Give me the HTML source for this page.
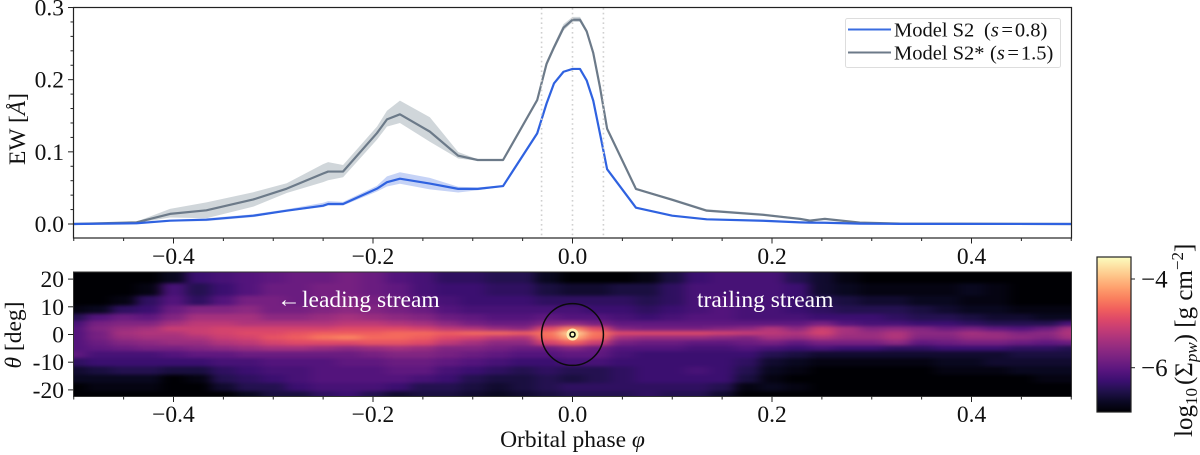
<!DOCTYPE html>
<html lang="en">
<head>
<meta charset="utf-8">
<title>EW and surface density versus orbital phase</title>
<style>
html,body{margin:0;padding:0;background:#fff;width:1200px;height:455px;overflow:hidden}
svg{display:block;font-family:"Liberation Serif",serif;fill:#111}
</style>
</head>
<body>
<svg id="fig" xmlns="http://www.w3.org/2000/svg" width="1200" height="455" viewBox="0 0 1200 455">
<defs>
<clipPath id="topClip"><rect x="73.5" y="7.5" width="998" height="230.5"/></clipPath>
<clipPath id="mapClip"><rect x="73.5" y="272" width="998" height="124.5"/></clipPath>
<filter id="soft" x="-5%" y="-20%" width="110%" height="140%" color-interpolation-filters="sRGB"><feGaussianBlur stdDeviation="6 1.5"/></filter>
<linearGradient id="cbarGrad" x1="0" y1="1" x2="0" y2="0"></linearGradient>
</defs>
<g id="topBands" clip-path="url(#topClip)"></g>
<g id="topLines" clip-path="url(#topClip)"></g>
<g id="refLines"></g>
<rect x="73.5" y="7.5" width="998" height="230.5" fill="none" stroke="#222" stroke-width="1.2"/>
<g id="topAxes"></g>
<text transform="translate(25,129) rotate(-90)" text-anchor="middle" font-size="23.5">EW [<tspan font-style="italic">Å</tspan>]</text>

<g>
<rect x="845.5" y="18.5" width="215" height="49" rx="2" fill="#fff" stroke="#ddd" stroke-width="1"/>
<line x1="848" x2="891" y1="29.5" y2="29.5" stroke="#3a6ce0" stroke-width="2"/>
<line x1="848" x2="891" y1="52.5" y2="52.5" stroke="#6c7a89" stroke-width="2"/>
<text y="36.5" font-size="20.5"><tspan x="894">Model S2</tspan><tspan x="984">(</tspan><tspan font-style="italic">s</tspan><tspan dx="2.5">=</tspan><tspan dx="2">0.8)</tspan></text>
<text y="59.5" font-size="20.5"><tspan x="894">Model S2*</tspan><tspan x="990">(</tspan><tspan font-style="italic">s</tspan><tspan dx="2.5">=</tspan><tspan dx="2">1.5)</tspan></text>
</g>

<g clip-path="url(#mapClip)">
<rect x="60" y="260" width="1030" height="150" fill="#000004"/>
<g id="mapCells" filter="url(#soft)"></g>
</g>
<text y="307" font-size="23.5" style="fill:#fff"><tspan x="277">←</tspan><tspan x="302">leading stream</tspan></text>
<text x="697" y="307" font-size="23.5" style="fill:#fff">trailing stream</text>
<g id="planet"></g>
<rect x="73.5" y="272" width="998" height="124.5" fill="none" stroke="#333" stroke-width="1"/>
<g id="mapAxes"></g>
<text transform="translate(21,335) rotate(-90)" text-anchor="middle" font-size="23.5"><tspan font-style="italic">θ</tspan> [deg]</text>
<text x="572.5" y="447" text-anchor="middle" font-size="23.5">Orbital phase <tspan font-style="italic">φ</tspan></text>

<rect x="1097" y="257" width="34" height="155" fill="url(#cbarGrad)" stroke="#222" stroke-width="1.2"/>
<g id="cbarAxis"></g>
<text transform="translate(1192,437) rotate(-90)" font-size="25">log<tspan font-size="17" dy="5">10</tspan><tspan dy="-5" dx="3">(Σ</tspan><tspan font-size="17" dy="5" font-style="italic">pw</tspan><tspan dy="-5">) [g cm</tspan><tspan font-size="17" dy="-9">−2</tspan><tspan dy="9">]</tspan></text>
</svg>

<script>
// ---- EW panel data ----
const phases = [-0.5,-0.437,-0.4035,-0.367,-0.32,-0.2865,-0.25,-0.245,-0.23,-0.196,-0.186,-0.173,-0.143,-0.1146,-0.095,-0.0696,-0.0354,-0.026,-0.0185,-0.009,0,0.0075,0.0142,0.0208,0.0275,0.0347,0.0636,0.1,0.1345,0.191,0.228,0.238,0.253,0.288,0.328,0.5];
const ewS2 = [0,0.001,0.0046,0.006,0.0115,0.0185,0.0254,0.0277,0.0277,0.049,0.058,0.0628,0.056,0.0487,0.0487,0.0526,0.1256,0.167,0.195,0.211,0.2149,0.2149,0.199,0.171,0.1256,0.076,0.0226,0.0115,0.0065,0.0045,0.0023,0.0019,0.0017,0.0005,0.0002,0];
const ewS2Star = [0,0.0023,0.014,0.019,0.034,0.049,0.07,0.0727,0.0727,0.126,0.145,0.152,0.128,0.0947,0.0887,0.0887,0.1717,0.222,0.245,0.272,0.283,0.283,0.267,0.237,0.19,0.132,0.0486,0.0335,0.0185,0.0127,0.0071,0.0047,0.0071,0.0019,0.0005,0];
const s2Up = [0,0,0.001,0.002,0.002,0.002,0.004,0.004,0.003,0.004,0.008,0.009,0.008,0.003,0.002,0.001,0.001,0.001,0.001,0.001,0.001,0.001,0.001,0.001,0.001,0.001,0.001,0.001,0.001,0,0,0,0,0,0,0];
const s2Down = [0,0,0.001,0.002,0.002,0.001,0.002,0.002,0.002,0.004,0.006,0.007,0.008,0.005,0.002,0.001,0.001,0.001,0.001,0.001,0.001,0.001,0.001,0.001,0.001,0.001,0.001,0.001,0.001,0,0,0,0,0,0,0];
const starUp = [0,0.001,0.007,0.011,0.01,0.0075,0.013,0.013,0.009,0.009,0.012,0.019,0.02,0.005,0.001,0.001,0.002,0.004,0.004,0.005,0.004,0.004,0.003,0.003,0.002,0.002,0.001,0.002,0.002,0.002,0.001,0.001,0.001,0,0,0];
const starDown = [0,0.001,0.005,0.011,0.01,0.006,0.012,0.012,0.008,0.009,0.01,0.012,0.014,0.004,0.001,0.001,0.002,0.004,0.004,0.004,0.003,0.003,0.003,0.003,0.002,0.002,0.001,0.001,0.001,0.001,0.001,0.001,0.001,0,0,0];
const refPhases = [-0.031,0,0.031];
const xTicks = [-0.4,-0.2,0,0.2,0.4];
const xTickLabels = ["−0.4","−0.2","0.0","0.2","0.4"];
const xMinorTicks = [-0.5,-0.45,-0.35,-0.3,-0.25,-0.15,-0.1,-0.05,0.05,0.1,0.15,0.25,0.3,0.35,0.45,0.5];
const ewTicks = [0,0.1,0.2,0.3];
const ewTickLabels = ["0.0","0.1","0.2","0.3"];
const ewMinorTicks = [0.02,0.04,0.06,0.08,0.12,0.14,0.16,0.18,0.22,0.24,0.26,0.28];
const thetaTicks = [20,10,0,-10,-20];
const thetaTickLabels = ["20","10","0","-10","-20"];
const cbarTicks = [-4,-6];
const cbarTickLabels = ["−4","−6"];

// ---- Density map data: log10 surface density, one row per theta, one column per phase ----
const mapPhases = [-0.5,-0.475,-0.45,-0.425,-0.4,-0.375,-0.35,-0.325,-0.3,-0.275,-0.25,-0.225,-0.2,-0.175,-0.15,-0.125,-0.1,-0.075,-0.05,-0.025,0,0.025,0.05,0.075,0.1,0.125,0.15,0.175,0.2,0.225,0.25,0.275,0.3,0.325,0.35,0.375,0.4,0.425,0.45,0.475,0.5];
const mapThetas = [21,16,12,9,6,4,2,0.5,-1,-3,-5,-7,-10,-13,-16,-19,-22];
const mapRow0 = [-7,-7,-7,-7,-6.8,-6.3,-6.2,-6.1,-6,-5.9,-5.9,-5.8,-5.9,-6.1,-6.2,-6.4,-6.4,-6.5,-6.5,-6.8,-7,-7,-7,-6.9,-6.6,-6.3,-6.2,-6.2,-6.2,-6.5,-6.7,-6.9,-7,-7,-7,-7,-7,-7,-7,-7,-7];
const mapRow1 = [-7,-7,-7,-6.9,-6.2,-6.5,-6.3,-6.1,-5.9,-5.9,-5.8,-5.8,-5.9,-6,-6.2,-6.3,-6.3,-6.4,-6.4,-6.6,-6.7,-6.7,-6.6,-6.6,-6.4,-6.2,-6.2,-6.2,-6.2,-6.3,-6.7,-6.8,-6.9,-6.9,-6.9,-6.9,-6.8,-6.9,-7,-7,-7];
const mapRow2 = [-7,-7,-6.9,-6.4,-6.1,-6.4,-6.1,-5.8,-5.8,-5.9,-5.8,-5.7,-5.8,-5.9,-6.1,-6.2,-6.3,-6.3,-6.3,-6.4,-6.4,-6.4,-6.4,-6.5,-6.4,-6.2,-6.1,-6.2,-6.2,-6.3,-6.5,-6.6,-6.7,-6.7,-6.8,-6.8,-6.9,-6.9,-7,-7,-7];
const mapRow3 = [-6.9,-6.8,-6.4,-6.3,-5.9,-5.7,-5.7,-5.6,-5.8,-5.8,-5.7,-5.6,-5.7,-5.8,-5.9,-6.1,-6.2,-6.2,-6.2,-6.2,-6.2,-6.3,-6.3,-6.4,-6.3,-6.2,-6.1,-6.2,-6.2,-6.3,-6.4,-6.5,-6.5,-6.5,-6.6,-6.7,-6.8,-6.8,-6.9,-6.9,-6.9];
const mapRow4 = [-6.5,-6.1,-5.9,-6,-5.7,-5.4,-5.4,-5.4,-5.6,-5.6,-5.5,-5.4,-5.5,-5.6,-5.7,-5.9,-6,-6.1,-6.1,-6,-6.1,-6.1,-6.2,-6.3,-6.2,-6.1,-6.1,-6.2,-6.2,-6.2,-6.3,-6.3,-6.3,-6.4,-6.5,-6.5,-6.6,-6.7,-6.7,-6.8,-6.8];
const mapRow5 = [-6.2,-5.8,-5.7,-5.7,-5.4,-5.2,-5.2,-5.3,-5.3,-5.3,-5.3,-5.2,-5.2,-5.3,-5.4,-5.6,-5.8,-5.9,-5.9,-5.7,-5.6,-5.8,-6,-6,-6,-6,-6,-6,-6,-6,-5.8,-6.1,-6.2,-6.2,-6.3,-6.3,-6.4,-6.5,-6.5,-6.5,-6.2];
const mapRow6 = [-6.1,-5.7,-5.5,-5.4,-5.1,-5.1,-5,-5,-5,-5,-5,-4.9,-4.9,-4.9,-5,-5.2,-5.3,-5.5,-5.6,-4.9,-4.4,-4.9,-5.7,-5.8,-5.8,-5.8,-5.7,-5.6,-5.3,-5.6,-5.1,-5.4,-5.7,-5.6,-5.7,-5.9,-5.8,-6,-6.1,-5.9,-5.4];
const mapRow7 = [-6.1,-5.8,-5.4,-5.3,-5.3,-5.1,-5,-4.9,-4.9,-4.8,-4.7,-4.7,-4.7,-4.6,-4.6,-4.7,-4.6,-4.6,-4.7,-4.5,-3.8,-4.5,-4.9,-4.9,-4.9,-4.9,-5,-5.1,-5.2,-5.3,-5,-5.4,-5.5,-5.3,-5.6,-5.6,-5.4,-5.5,-5.7,-5.6,-5.3];
const mapRow8 = [-6.1,-5.8,-5.5,-5.4,-5.4,-5.3,-5.1,-5,-4.8,-4.7,-4.5,-4.4,-4.6,-4.6,-4.7,-4.9,-5,-5.2,-5.3,-4.6,-4.1,-4.6,-5.4,-5.5,-5.5,-5.5,-5.6,-5.7,-5.4,-5.5,-5.3,-5.5,-5.5,-5.3,-5.7,-5.7,-5.5,-5.5,-5.6,-5.7,-5.4];
const mapRow9 = [-6.1,-5.9,-5.7,-5.6,-5.5,-5.5,-5.3,-5.2,-5,-4.9,-4.9,-4.9,-4.8,-4.8,-4.9,-5.2,-5.4,-5.6,-5.6,-5,-4.7,-5.1,-5.8,-5.9,-5.9,-6,-6,-5.9,-5.8,-6,-5.8,-5.8,-5.8,-5.6,-6,-5.9,-5.8,-5.8,-5.9,-6,-5.9];
const mapRow10 = [-6.1,-6,-5.9,-5.8,-5.8,-5.7,-5.6,-5.5,-5.4,-5.4,-5.5,-5.6,-5.5,-5.4,-5.5,-5.7,-5.7,-5.8,-5.9,-5.9,-5.7,-5.9,-6.1,-6.1,-6.1,-6.2,-6.2,-6.1,-6.2,-6.3,-6.2,-6.3,-6.3,-6.4,-6.4,-6.3,-6.3,-6.3,-6.4,-6.4,-6.5];
const mapRow11 = [-6,-6.2,-6.2,-6.2,-6.1,-6,-6,-5.9,-5.9,-5.9,-5.9,-5.9,-5.8,-5.7,-5.7,-5.8,-5.9,-6,-6.1,-6.1,-6,-6,-6.2,-6.3,-6.3,-6.3,-6.3,-6.3,-6.5,-6.6,-6.7,-6.7,-6.7,-6.7,-6.7,-6.7,-6.7,-6.7,-6.6,-6.6,-6.6];
const mapRow12 = [-6.4,-6.3,-6.3,-6.3,-6.3,-6.3,-6.2,-6.2,-6.1,-6.1,-6.1,-6,-6,-5.9,-5.9,-6,-6.1,-6.2,-6.3,-6.3,-6.2,-6.2,-6.3,-6.3,-6.3,-6.3,-6.3,-6.4,-6.7,-6.8,-6.9,-6.9,-6.9,-6.9,-6.9,-6.8,-6.8,-6.7,-6.7,-6.7,-6.7];
const mapRow13 = [-6.7,-6.6,-6.5,-6.5,-6.6,-6.6,-6.4,-6.3,-6.2,-6.2,-6.1,-6.1,-6.1,-6,-6,-6.2,-6.3,-6.4,-6.5,-6.4,-6.5,-6.5,-6.4,-6.3,-6.3,-6.2,-6.3,-6.5,-6.8,-6.9,-7,-7,-7,-7,-7,-6.9,-6.9,-6.9,-6.8,-6.8,-6.8];
const mapRow14 = [-6.8,-6.8,-6.8,-6.8,-7,-6.9,-6.5,-6.4,-6.3,-6.2,-6.1,-6.1,-6.1,-6.1,-6.2,-6.3,-6.5,-6.6,-6.6,-6.5,-6.6,-6.5,-6.4,-6.3,-6.3,-6.3,-6.3,-6.6,-6.9,-7,-7,-7,-7,-7,-7,-7,-7,-7,-7,-6.9,-6.9];
const mapRow15 = [-7,-6.9,-6.9,-6.9,-7,-7,-6.7,-6.5,-6.5,-6.3,-6.2,-6.2,-6.2,-6.3,-6.5,-6.5,-6.6,-6.7,-6.6,-6.5,-6.4,-6.4,-6.4,-6.4,-6.4,-6.4,-6.5,-6.9,-6.8,-6.9,-7,-7,-7,-7,-7,-7,-7,-7,-7,-7,-7];
const mapRow16 = [-7,-7,-7,-7,-7,-7,-7,-6.8,-6.6,-6.6,-6.4,-6.3,-6.5,-6.7,-6.6,-6.6,-6.7,-6.8,-6.7,-6.6,-6.5,-6.5,-6.5,-6.4,-6.5,-6.5,-6.7,-7,-7,-7,-7,-7,-7,-7,-7,-7,-7,-7,-7,-7,-7];
const mapRows = [mapRow0,mapRow1,mapRow2,mapRow3,mapRow4,mapRow5,mapRow6,mapRow7,mapRow8,mapRow9,mapRow10,mapRow11,mapRow12,mapRow13,mapRow14,mapRow15,mapRow16];

// ---- Scales ----
const NS = "http://www.w3.org/2000/svg";
const xTop = v => 572.5 + v * 997.5;
const yEw = v => 224 - v * 721.6;
const yTheta = t => 334.5 - t * 2.77;
const yCbar = v => 279 + (-4 - v) * 44.35;
const magma = ["#000004","#0b0924","#20114b","#3b0f70","#57157e","#721f81","#8c2981","#a8327d","#c43c75","#de4968","#f1605d","#fa7f5e","#fe9f6d","#febf84","#fddea0","#fcfdbf"];
function hex(c){return [1,3,5].map(i=>parseInt(c.substr(i,2),16));}
function colorOf(v){
  const f = Math.max(0,Math.min(1,(v+7)/3.5))*(magma.length-1);
  const i = Math.min(magma.length-2,Math.floor(f)), t = f-i;
  const a = hex(magma[i]), b = hex(magma[i+1]);
  return "rgb("+a.map((q,k)=>Math.round(q+(b[k]-q)*t)).join(",")+")";
}
function make(tag,attrs,parent,txt){
  const el = document.createElementNS(NS,tag);
  for(const k in attrs) el.setAttribute(k,attrs[k]);
  if(txt!==undefined) el.textContent = txt;
  parent.appendChild(el);
  return el;
}
const $ = id => document.getElementById(id);

// ---- EW bands and lines ----
function drawBand(vals,up,down,fill,name){
  const upper = phases.map((p,i)=>xTop(p)+","+yEw(vals[i]+up[i]));
  const lower = phases.map((p,i)=>xTop(p)+","+yEw(vals[i]-down[i])).reverse();
  const el = make("polygon",{points:upper.concat(lower).join(" "),fill:fill},$("topBands"));
  
  
}
function drawLine(vals,stroke,name){
  const el = make("polyline",{points:phases.map((p,i)=>xTop(p)+","+yEw(vals[i])).join(" "),fill:"none",stroke:stroke,"stroke-width":2.2,"stroke-linejoin":"round"},$("topLines"));
  
  
}
drawBand(ewS2Star,starUp,starDown,"#d0d6da","band-s2-star");
drawBand(ewS2,s2Up,s2Down,"#c6d3f6","band-s2");
drawLine(ewS2Star,"#6c7a89","line-s2-star");
drawLine(ewS2,"#2f62e0","line-s2");

refPhases.forEach(p=>{
  const el = make("line",{x1:xTop(p),x2:xTop(p),y1:8,y2:238,stroke:"#cfcfcf","stroke-width":1.6,"stroke-dasharray":"1.6 3.2"},$("refLines"));
  
  
});

// ---- Axes ----
function tick(parent,x1,y1,x2,y2,name){
  const el = make("line",{x1:x1,y1:y1,x2:x2,y2:y2,stroke:"#222","stroke-width":1},parent);
  
  
}
function label(parent,x,y,anchor,txt,name,size){
  const el = make("text",{x:x,y:y,"text-anchor":anchor,"font-size":size},parent,txt);
  
  
}
[[$("topAxes"),238,264],[$("mapAxes"),396.5,422]].forEach(([g,base,ly])=>{
  xTicks.forEach((v,i)=>{
    tick(g,xTop(v),base,xTop(v),base+5.5,"x-tick");
    label(g,xTop(v),ly,"middle",xTickLabels[i],"x-tick-label",23.5);
  });
  xMinorTicks.forEach(v=>tick(g,xTop(v),base,xTop(v),base+3,"x-minor-tick"));
});
ewTicks.forEach((v,i)=>{
  tick($("topAxes"),73.5,yEw(v),68,yEw(v),"y-tick");
  label($("topAxes"),64,yEw(v)+8,"end",ewTickLabels[i],"y-tick-label",23.5);
});
ewMinorTicks.forEach(v=>tick($("topAxes"),73.5,yEw(v),70.5,yEw(v),"y-minor-tick"));
thetaTicks.forEach((v,i)=>{
  tick($("mapAxes"),73.5,yTheta(v),68,yTheta(v),"theta-tick");
  label($("mapAxes"),64,yTheta(v)+8,"end",thetaTickLabels[i],"theta-tick-label",23.5);
});

// ---- Heatmap cells ----
function edges(centers,scale,pad){
  const px = centers.map(scale), out = [];
  const dir = px[1]>px[0]?1:-1;
  out.push(px[0]-dir*pad);
  for(let i=0;i<px.length-1;i++) out.push((px[i]+px[i+1])/2);
  out.push(px[px.length-1]+dir*pad);
  return out;
}
const xe = edges(mapPhases,xTop,40), ye = edges(mapThetas,yTheta,30);
mapRows.forEach((row,r)=>{
  row.forEach((v,c)=>{
    const cell = make("rect",{x:xe[c],y:ye[r],width:xe[c+1]-xe[c]+0.5,height:ye[r+1]-ye[r]+0.5,fill:colorOf(v)},$("mapCells"));
    
    
  });
});

// ---- Planet marker ----
const cx = xTop(0), cy = yTheta(0);
const hill = make("circle",{cx:cx,cy:cy,r:xTop(0.031)-xTop(0),fill:"none",stroke:"#0a0a0a","stroke-width":1.5},$("planet"));


const glow = make("circle",{cx:cx,cy:cy,r:6,fill:"#fdeeb0"},$("planet"));


const core = make("circle",{cx:cx,cy:cy,r:2.5,fill:"#fcfdbf",stroke:"#0a0a0a","stroke-width":1.6},$("planet"));



// ---- Colorbar ----
magma.forEach((c,i)=>{
  make("stop",{offset:i/(magma.length-1),"stop-color":c},$("cbarGrad"));
});
cbarTicks.forEach((v,i)=>{
  tick($("cbarAxis"),1131,yCbar(v),1135,yCbar(v),"colorbar-tick");
  label($("cbarAxis"),1141,yCbar(v)+8.5,"start",cbarTickLabels[i],"colorbar-tick-label",25);
});
</script>
</body>
</html>
